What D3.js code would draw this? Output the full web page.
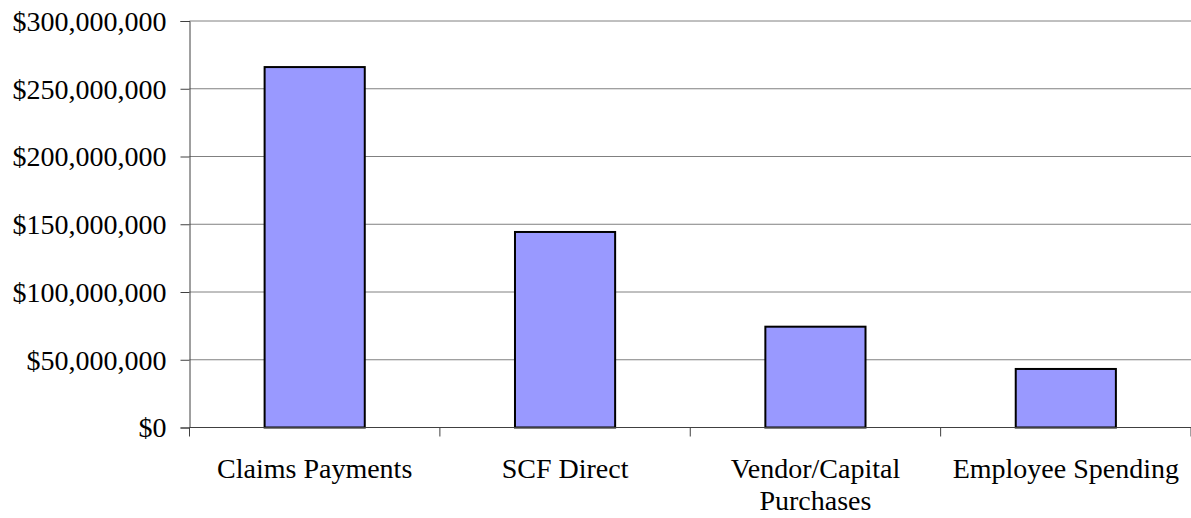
<!DOCTYPE html>
<html>
<head>
<meta charset="utf-8">
<script src="https://cdn.jsdelivr.net/npm/d3@7"></script>
<style>
  body { margin: 0; background: #fff; }
  text { font-family: "Liberation Serif", "Times New Roman", serif; font-size: 28px; fill: #000; }
</style>
</head>
<body>
<svg id="chart" width="1191" height="518"></svg>
<script>
// data
const categories = ["Claims Payments", "SCF Direct", "Vendor/Capital Purchases", "Employee Spending"];
const labelLines = [["Claims Payments"], ["SCF Direct"], ["Vendor/Capital", "Purchases"], ["Employee Spending"]];
const amounts = [266000000, 144300000, 74400000, 43200000];
const yTicks = [0, 50000000, 100000000, 150000000, 200000000, 250000000, 300000000];

const svg = d3.select("#chart");
const margin = {top: 21, right: 0, bottom: 90.5, left: 189.5};
const width = +svg.attr("width");
const height = +svg.attr("height");

const x = d3.scaleBand()
  .domain(categories)
  .range([margin.left, width - margin.right])
  .paddingInner(0.6)
  .paddingOuter(0.3);

// band edges for tick marks
const step = (width - margin.right - margin.left) / categories.length;

const y = d3.scaleLinear()
  .domain([0, 300000000])
  .range([height - margin.bottom, margin.top]);

const fmt = v => "$" + d3.format(",")(v);

// gridlines
svg.append("g")
  .selectAll("line")
  .data(yTicks.filter(d => d > 0))
  .join("line")
  .attr("x1", margin.left)
  .attr("x2", width - margin.right)
  .attr("y1", d => y(d))
  .attr("y2", d => y(d))
  .attr("stroke", "#808080")
  .attr("stroke-width", 1);

// y axis
const yAxis = svg.append("g")
  .attr("transform", `translate(${margin.left},0)`)
  .call(d3.axisLeft(y).tickValues(yTicks).tickFormat(fmt).tickSize(9).tickPadding(14));
yAxis.select(".domain").attr("stroke", "#404040");
yAxis.selectAll(".tick line").attr("stroke", "#404040");
yAxis.selectAll("text").attr("font-size", null).attr("font-family", null).attr("dy", "0.33em");

// bars
svg.selectAll(".bar")
  .data(amounts)
  .join("rect")
  .attr("class", "bar")
  .attr("x", (d, i) => x(categories[i]))
  .attr("y", d => y(d))
  .attr("width", x.bandwidth())
  .attr("height", d => y(0) - y(d))
  .attr("fill", "#9999FF")
  .attr("stroke", "#000")
  .attr("stroke-width", 2);

// x axis line and ticks
const xg = svg.append("g");
xg.append("line")
  .attr("x1", margin.left).attr("x2", width - margin.right)
  .attr("y1", y(0)).attr("y2", y(0))
  .attr("stroke", "#404040");
xg.selectAll(".xt")
  .data(d3.range(categories.length + 1))
  .join("line")
  .attr("class", "xt")
  .attr("x1", i => margin.left + i * step)
  .attr("x2", i => margin.left + i * step)
  .attr("y1", y(0))
  .attr("y2", y(0) + 9)
  .attr("stroke", "#404040");

// category labels
svg.selectAll(".xlabel")
  .data(categories)
  .join("text")
  .attr("class", "xlabel")
  .attr("text-anchor", "middle")
  .attr("x", d => x(d) + x.bandwidth() / 2)
  .attr("y", 478)
  .each(function(d, i) {
    d3.select(this).selectAll("tspan")
      .data(labelLines[i])
      .join("tspan")
      .attr("x", x(d) + x.bandwidth() / 2)
      .attr("dy", (t, j) => j === 0 ? 0 : 32)
      .text(t => t);
  });
</script>
</body>
</html>
